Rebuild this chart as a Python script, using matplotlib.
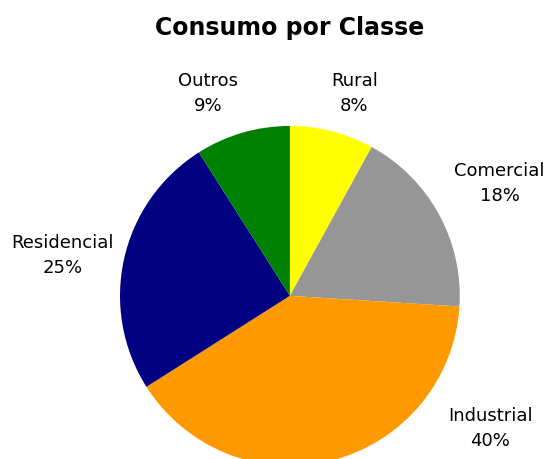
import matplotlib.pyplot as plt

labels = ['Rural', 'Comercial', 'Industrial', 'Residencial', 'Outros']
shares = [8, 18, 40, 25, 9]
colors = ['#FFFF00', '#969696', '#FF9900', '#000080', '#008000']
# label centres, in pie-radius units
label_pos = [(0.38, 1.19), (1.235, 0.66), (1.18, -0.78), (-1.34, 0.235), (-0.48, 1.19)]

fig = plt.figure(figsize=(5.48, 4.59), dpi=100)
ax = fig.add_axes([0.219, -0.015, 0.620, 0.741])

wedges, _ = ax.pie(shares, colors=colors, startangle=90, counterclock=False,
                   radius=1.0, wedgeprops=dict(linewidth=0))
ax.set_xlim(-1, 1)
ax.set_ylim(-1, 1)
ax.set_aspect('equal')
for w in wedges:
    w.set_clip_on(False)

for lab, val, (x, y) in zip(labels, shares, label_pos):
    ax.text(x, y, f'{lab}\n{val}%', ha='center', va='center', fontsize=13,
            linespacing=1.5, clip_on=False)

fig.text(0.529, 0.938, 'Consumo por Classe', ha='center', va='center',
         fontsize=17, fontweight='bold')

fig.savefig('out.png', dpi=100)
